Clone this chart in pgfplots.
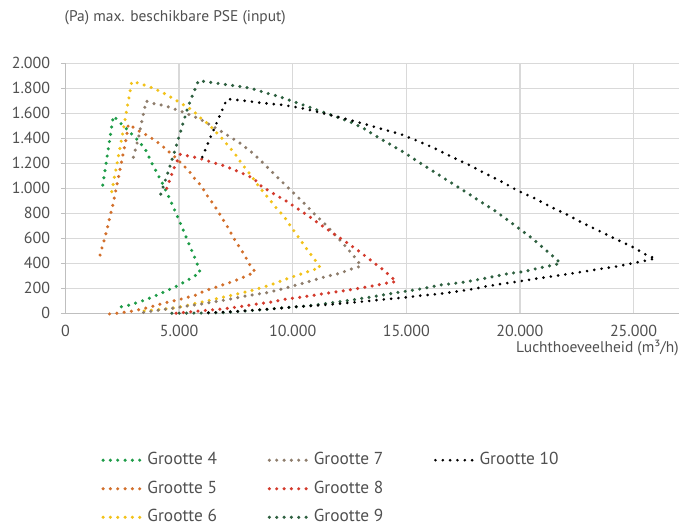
\documentclass[border=0pt]{standalone}
\usepackage{fontspec}
\setmainfont{PT Sans}
\usepackage{pgfplots}
\pgfplotsset{compat=1.18}

\definecolor{gA}{HTML}{1E9C48}
\definecolor{gB}{HTML}{D2702C}
\definecolor{gC}{HTML}{F2C21A}
\definecolor{gD}{HTML}{8E7D6C}
\definecolor{gE}{HTML}{D33A2C}
\definecolor{gF}{HTML}{2E6040}
\definecolor{gridgray}{HTML}{D9D9D9}
\definecolor{axgray}{HTML}{BFBFBF}
\definecolor{txt}{HTML}{505050}

\pgfplotsset{
  dots/.style={line width=2.6pt, dash pattern=on 0pt off 5.5pt, line cap=round},
}

\begin{document}
\begin{tikzpicture}[x=0.75pt,y=0.75pt]
% picture frame in reference pixels, origin at the axis corner
\useasboundingbox (-65.5,-210.7) rectangle (628.5,313.3);
\node[anchor=west, text=txt, font=\fontsize{11.6}{13}\selectfont] at (-5.5,295.3) {(Pa) max. beschikbare PSE (input)};
\begin{axis}[
    at={(0pt,0pt)}, anchor=south west,
    scale only axis, width=460.1pt, height=187.5pt,
    xmin=0, xmax=27000, ymin=0, ymax=2000,
    xtick={0,5000,...,25000}, ytick={0,200,...,2000},
    scaled ticks=false,
    /pgf/number format/.cd, 1000 sep={.}, assume math mode=true, /pgfplots/.cd,
    axis x line*=bottom, axis y line*=left,
    axis line style={draw=axgray, line width=0.8pt, -},
    grid=major, major grid style={draw=gridgray, line width=1pt},
    tick align=outside, major tick length=3pt,
    xtick style={draw=none}, ytick style={draw=axgray, line width=0.8pt},
    ticklabel style={text=txt, font=\fontsize{12}{14}\selectfont},
    xticklabel style={yshift=-2pt},
    yticklabel style={xshift=-5pt},
    xlabel={Luchthoeveelheid (m³/h)},
    xlabel style={at={(axis description cs:1,-0.139)}, anchor=east, text=txt, font=\fontsize{11.6}{13}\selectfont, inner sep=0pt},
    clip=false,
    legend columns=3,
    legend cell align=left,
    legend image code/.code={\draw[#1] (0pt,0pt) -- (32pt,0pt);},
    legend style={at={(axis description cs:0.058,-0.556)}, anchor=north west, draw=none, fill=none, inner sep=0pt,
      font=\fontsize{13}{15}\selectfont, text=txt,
      nodes={inner sep=0pt, text height=9pt, text depth=2.5pt},
      row sep=9.9pt,
      /tikz/every even column/.append style={column sep=38pt}},
]
% Grootte 4
\addplot[dots, gA, forget plot] coordinates {
(1639,1026) (2106,1578) (2326,1541) (2546,1498) (2767,1461) (2987,1421) (3207,1381)
(3546,1301) (3824,1192) (4308,1026) (4722,861) (5118,693) (5515,520) (5779,405) (5925,325)
(5630,293) (5339,261) (4793,208) (4458,181) (3868,133) (3282,93) (2665,58) (2170,43)
};
% Grootte 5
\addplot[dots, gB, forget plot] coordinates {
(1520,466) (1784,640) (2106,885) (2432,1178) (2696,1421) (2767,1512) (2987,1488)
(3282,1453) (3621,1421) (3912,1386) (4163,1354) (4427,1312) (4678,1272) (4925,1232)
(5163,1186) (5409,1146) (5603,1093) (5823,1053) (6043,1000) (6219,946) (6396,901)
(6585,853) (6837,778) (7171,680) (7467,581) (7832,480) (8158,373) (8347,333)
(8053,306) (7467,261) (6775,218) (6145,181) (5749,146) (4925,106) (4308,80)
(3692,48) (3062,21) (2401,3) (1650,-10)
};
% Grootte 6
\addplot[dots, gC, forget plot] coordinates {
(2035,973) (2476,1400) (2916,1853) (3238,1840) (3546,1821) (3868,1800) (4194,1773)
(4484,1746) (4793,1712) (5088,1680) (5383,1648) (5660,1613) (6043,1546) (6290,1514)
(6880,1400) (7423,1285) (7805,1186) (8202,1093) (8568,1000) (8977,912) (9303,836)
(9625,775) (9815,720) (10184,626) (10594,520) (10960,432) (11211,365)
(10872,346) (10228,306) (9594,266) (9008,226) (8273,186) (7687,160) (7057,133)
(6409,106) (5749,80) (5118,53) (4529,37) (3400,18)
};
% Grootte 7
\addplot[dots, gD, forget plot] coordinates {
(2987,1248) (3207,1400) (3546,1698) (3841,1680) (4163,1669) (4484,1653) (4793,1634)
(5118,1613) (5409,1592) (5735,1568) (6043,1541) (6880,1453) (7687,1360) (8246,1280)
(8599,1221) (9008,1146) (9303,1093) (9523,1053) (10008,968) (10476,885) (10960,794)
(11431,712) (11872,626) (12312,538) (12753,445) (13017,378)
(12678,360) (12061,320) (11431,293) (10801,258) (10154,226) (9523,194) (8863,165)
(7907,138) (7000,105) (6000,75) (4678,40) (3356,5)
};
% Grootte 8
\addplot[dots, gE, forget plot] coordinates {
(4458,1000) (4559,1053) (4678,1112) (4793,1168) (5044,1272) (5339,1261) (5704,1248)
(6043,1232) (6365,1213) (6705,1194) (7026,1178) (7687,1128) (8273,1080) (8643,1013)
(9303,941) (9594,912) (10154,845) (10740,773) (11285,701) (11841,632) (12387,565)
(12942,493) (13457,421) (14030,341) (14559,253)
(14220,245) (13590,221) (12929,200) (12281,181) (11651,165) (10991,146) (10330,128)
(9669,112) (9008,88) (8347,72) (7687,53) (7026,37) (6365,26) (5749,16) (5118,5) (4823,0)
};
% Grootte 9
\addplot[dots, gF, forget plot] coordinates {
(4193,954) (4529,1138) (4823,1306) (5118,1488) (5409,1661) (5674,1781) (5850,1861)
(6189,1853) (6880,1834) (7541,1818) (8171,1800) (8788,1765) (9418,1733) (10035,1693)
(10669,1653) (11285,1613) (11902,1573) (12503,1533) (13118,1480) (13753,1408)
(14339,1346) (14925,1285) (15470,1218) (16056,1152) (16616,1085) (17202,1018)
(17774,952) (18334,885) (18904,820) (19457,746) (19990,674) (20536,600) (21047,520)
(21563,440) (21783,400)
(21461,386) (20800,360) (20139,333) (19470,317) (18818,293) (18479,280) (17496,248)
(16497,226) (15541,192) (14559,165) (13559,133) (12581,106) (11577,80) (10594,58)
(9625,45) (8890,32) (7907,18) (6951,5) (5925,2) (4560,0)
};
% Grootte 10
\addplot[dots, black, line width=2.2pt, forget plot] coordinates {
(6020,1250) (6409,1421) (7101,1712) (7321,1712) (7612,1706) (8202,1693) (8788,1680)
(9500,1668) (10035,1653) (10625,1632) (12237,1560) (13163,1514) (13973,1472)
(14735,1434) (15514,1378) (16246,1320) (17039,1248) (17774,1186) (18457,1120)
(19228,1050) (19902,981) (20651,920) (21343,853) (22047,792) (22783,720) (23501,658)
(24237,592) (24941,533) (25647,458) (25968,440)
(25673,426) (24941,400) (24206,373) (23501,354) (22783,333) (22047,312) (21312,293)
(20607,274) (19876,253) (19140,234) (18436,213) (17937,194) (17158,173) (16395,154)
(15616,141) (14853,125) (14074,112) (13312,98) (12555,85) (11770,72) (10991,61)
(10211,53) (9449,40) (8500,28) (7500,15) (6070,3)
};
% legend, filled row by row
\addlegendimage{dots, gA}\addlegendentry{Grootte 4}
\addlegendimage{dots, gD}\addlegendentry{Grootte 7}
\addlegendimage{dots, black, line width=2.2pt}\addlegendentry{Grootte 10}
\addlegendimage{dots, gB}\addlegendentry{Grootte 5}
\addlegendimage{dots, gE}\addlegendentry{Grootte 8}
\addlegendimage{empty legend}\addlegendentry{}
\addlegendimage{dots, gC}\addlegendentry{Grootte 6}
\addlegendimage{dots, gF}\addlegendentry{Grootte 9}
\end{axis}
\end{tikzpicture}
\end{document}
